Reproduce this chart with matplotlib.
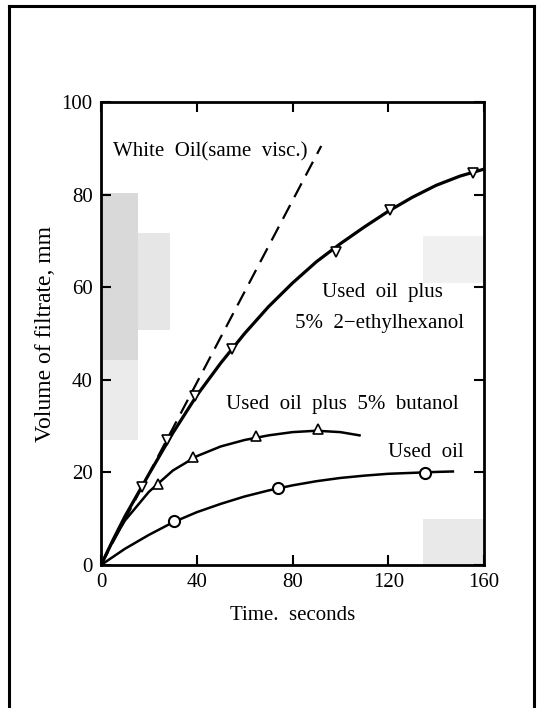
import matplotlib
matplotlib.use("Agg")
import matplotlib.pyplot as plt
from matplotlib.lines import Line2D
from matplotlib.patches import Rectangle

plt.rcParams['font.family'] = ['Liberation Serif', 'DejaVu Serif']

# measured points
ethyl_t = [17, 27.7, 39.2, 54.7, 98.2, 120.8, 155.3]
ethyl_v = [16.9, 27.1, 36.6, 46.6, 67.6, 76.7, 84.6]
butanol_t = [23.8, 38.4, 64.7, 90.6]
butanol_v = [17.5, 23.3, 27.9, 29.4]
used_t = [30.5, 74, 135.2]
used_v = [9.4, 16.6, 19.8]

# smooth curves
ethyl_curve_t = [0, 5, 10, 20, 30, 40, 50, 60, 70, 80, 90, 100, 110, 120, 130, 140, 150, 160]
ethyl_curve_v = [0, 5.4, 10.5, 19.6, 28.5, 36.6, 43.6, 50.0, 55.8, 60.9, 65.5, 69.4, 73.0, 76.4, 79.4, 82.0, 84.0, 85.5]
butanol_curve_t = [0, 5, 10, 20, 30, 40, 50, 60, 70, 80, 90, 100, 108]
butanol_curve_v = [0, 5.2, 9.6, 15.8, 20.4, 23.5, 25.6, 27.0, 28.0, 28.7, 29.0, 28.7, 28.0]
used_curve_t = [0, 10, 20, 30, 40, 50, 60, 70, 80, 90, 100, 110, 120, 130, 140, 147]
used_curve_v = [0, 3.5, 6.5, 9.2, 11.4, 13.2, 14.8, 16.1, 17.2, 18.1, 18.8, 19.3, 19.7, 19.9, 20.1, 20.2]
white_t = [0, 92]
white_v = [0, 90.5]

xticks = [0, 40, 80, 120, 160]
yticks = [0, 20, 40, 60, 80, 100]

fig = plt.figure(figsize=(5.42, 7.08), dpi=100)
ax = fig.add_axes([101 / 542, 1 - 565 / 708, 383 / 542, 463 / 708])

# faint halftone patches of the scan
for (x0, y0, w, h, c) in [(0.0, 0.443, 0.097, 0.36, '#d9d9d9'),
                          (0.0, 0.27, 0.097, 0.173, '#ebebeb'),
                          (0.097, 0.508, 0.083, 0.209, '#e6e6e6'),
                          (0.84, 0.61, 0.16, 0.10, '#f0f0f0'),
                          (0.84, 0.0, 0.16, 0.10, '#e9e9e9')]:
    ax.add_patch(Rectangle((x0, y0), w, h, transform=ax.transAxes,
                           color=c, lw=0, zorder=0))

ax.plot(white_t, white_v, color='black', lw=1.6, dashes=(7, 4))
ax.plot(ethyl_curve_t, ethyl_curve_v, color='black', lw=2.3)
ax.plot(butanol_curve_t, butanol_curve_v, color='black', lw=1.8)
ax.plot(used_curve_t, used_curve_v, color='black', lw=1.8)

ax.plot(ethyl_t, ethyl_v, 'v', ms=7, mfc='white', mec='black', mew=1.2, ls='none')
ax.plot(butanol_t, butanol_v, '^', ms=7, mfc='white', mec='black', mew=1.2, ls='none')
ax.plot(used_t, used_v, 'o', ms=8, mfc='white', mec='black', mew=1.5, ls='none')

ax.set_xlim(0, 160)
ax.set_ylim(0, 100)
ax.set_xticks(xticks)
ax.set_yticks(yticks)
ax.tick_params(direction='in', length=7, width=1.5, top=True, right=True,
               labelsize=15, pad=6)
for s in ax.spines.values():
    s.set_linewidth(2)

ax.set_xlabel('Time.  seconds', fontsize=15, labelpad=10)
ax.set_ylabel('Volume of filtrate, mm', fontsize=17, labelpad=4)

ax.text(4.9, 89.2, 'White  Oil(same  visc.)', fontsize=15, va='center')
ax.text(117.4, 58.9, 'Used  oil  plus', fontsize=15, va='center', ha='center')
ax.text(116.5, 52.2, '5%  2\u2212ethylhexanol', fontsize=15, va='center', ha='center')
ax.text(100.7, 34.6, 'Used  oil  plus  5%  butanol', fontsize=15, va='center', ha='center')
ax.text(151.6, 24.3, 'Used  oil', fontsize=15, va='center', ha='right')

# outer frame
for xs, ys in [([9, 9], [6, 708]), ([9, 534], [6, 6]), ([534, 534], [6, 708])]:
    fig.add_artist(Line2D([x / 542 for x in xs], [1 - y / 708 for y in ys],
                          color='black', lw=2.2))

fig.savefig('out.png', dpi=100)
